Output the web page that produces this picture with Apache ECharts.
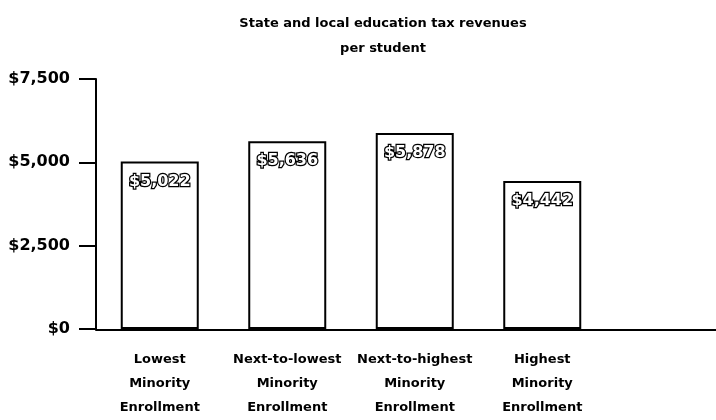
<!DOCTYPE html>
<html>
<head>
<meta charset="utf-8">
<script src="https://cdn.jsdelivr.net/npm/echarts@6/dist/echarts.min.js"></script>
<style>
  html, body { margin: 0; padding: 0; background: #fff; }
  #chart { width: 716px; height: 420px; }
</style>
</head>
<body>
<div id="chart"></div>
<script>
// per-student revenue by minority enrollment quartile
var groups = ['Lowest\nMinority\nEnrollment', 'Next-to-lowest\nMinority\nEnrollment',
              'Next-to-highest\nMinority\nEnrollment', 'Highest\nMinority\nEnrollment'];
var revenue = [5022, 5636, 5878, 4442];
var yMax = 7500;
var yStep = 2500;

var chart = echarts.init(document.getElementById('chart'));

function dollars(v) {
    return '$' + v.toLocaleString('en-US');
}

var option = {
    backgroundColor: '#fff',
    animation: false,
    title: {
        text: 'State and local education tax revenues\nper student',
        left: 378,
        top: 6,
        textAlign: 'center',
        textStyle: {
            fontFamily: 'DejaVu Sans',
            fontSize: 13,
            fontWeight: 'bold',
            color: '#000',
            lineHeight: 25
        }
    },
    grid: [
        { left: 96, top: 79, width: 510, bottom: 90 },
        // only used to carry the baseline on to the right edge
        { left: 96, top: 79, right: 0, bottom: 90 }
    ],
    xAxis: [{
        type: 'category',
        data: groups,
        gridIndex: 0,
        axisLine: { show: false },
        axisTick: { alignWithLabel: true, length: 10, lineStyle: { color: '#000', width: 2 } },
        axisLabel: {
            interval: 0,
            margin: 19,
            fontFamily: 'DejaVu Sans',
            fontSize: 13,
            fontWeight: 'bold',
            color: '#000',
            lineHeight: 24
        }
    }, {
        type: 'category',
        data: [''],
        gridIndex: 1,
        axisLine: { lineStyle: { color: '#000', width: 2 } },
        axisTick: { show: false },
        axisLabel: { show: false }
    }],
    yAxis: [{
        type: 'value',
        gridIndex: 0,
        min: 0,
        max: yMax,
        interval: yStep,
        axisLine: { show: true, lineStyle: { color: '#000', width: 2 } },
        axisTick: { show: true, length: 17, lineStyle: { color: '#000', width: 2 } },
        splitLine: { show: false },
        axisLabel: {
            margin: 26,
            formatter: dollars,
            fontFamily: 'DejaVu Sans',
            fontWeight: 'bold',
            fontSize: 16,
            color: '#000'
        }
    }, {
        type: 'value',
        gridIndex: 1,
        show: false
    }],
    series: [{
        type: 'bar',
        xAxisIndex: 0,
        yAxisIndex: 0,
        data: revenue,
        barWidth: 78,
        itemStyle: { color: '#fff', borderColor: '#000', borderWidth: 2 },
        label: {
            show: true,
            position: 'insideTop',
            distance: 12,
            formatter: function (p) { return dollars(p.value); },
            fontFamily: 'DejaVu Sans',
            fontWeight: 'bold',
            fontSize: 16,
            color: '#fff',
            textBorderColor: '#000',
            textBorderWidth: 2.5
        }
    }]
};

chart.setOption(option);
</script>
</body>
</html>
